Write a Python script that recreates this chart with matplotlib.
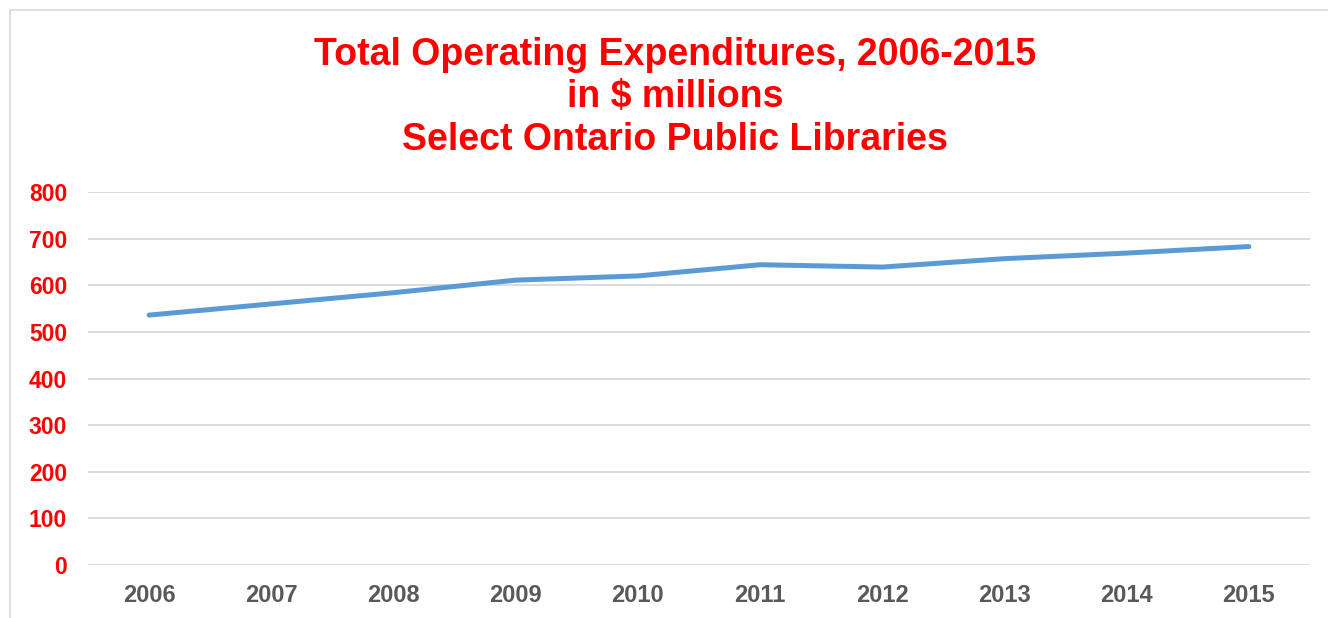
import matplotlib.pyplot as plt
from matplotlib.patches import Rectangle

# data ($ millions)
years = ['2006', '2007', '2008', '2009', '2010', '2011', '2012', '2013', '2014', '2015']
expenditures = [536, 560, 584, 611, 620, 644, 639, 657, 669, 683]
y_ticks = [0, 100, 200, 300, 400, 500, 600, 700, 800]
title_lines = ['Total Operating Expenditures, 2006-2015',
               'in $ millions',
               'Select Ontario Public Libraries']

plt.rcParams['font.family'] = ['Liberation Sans', 'DejaVu Sans']

W, H = 1328, 618
fig = plt.figure(figsize=(W / 100, H / 100), dpi=100)
ax = fig.add_axes([88 / W, 1 - 565 / H, (1310 - 88) / W, (565 - 192) / H])

x = list(range(len(years)))
ax.plot(x, expenditures, color='#5B9BD5', linewidth=3.6, solid_capstyle='round',
        solid_joinstyle='round', zorder=3)

ax.set_xlim(-0.5, len(years) - 0.5)
ax.set_ylim(0, 800)
ax.set_yticks(y_ticks)
ax.set_xticks(x)
ax.set_xticklabels(years)

for s in ax.spines.values():
    s.set_visible(False)
ax.yaxis.grid(True, color='#d9d9d9', linewidth=1.3)
ax.set_axisbelow(True)
ax.tick_params(axis='both', length=0)
ax.tick_params(axis='y', pad=15, labelsize=16.5, labelcolor='#ff0000')
ax.tick_params(axis='x', pad=14, labelsize=17, labelcolor='#595959')
for lbl in ax.get_yticklabels() + ax.get_xticklabels():
    lbl.set_fontweight('bold')

# title, three centred lines
for line, ypx in zip(title_lines, [65, 107.5, 150]):
    fig.text(675 / W, 1 - ypx / H, line, ha='center', va='baseline',
             fontsize=27, fontweight='bold', color='#ff0000')

# light chart frame
fig.add_artist(Rectangle((10 / W, -0.05), 1.0, 1 - 10 / H + 0.05,
                         transform=fig.transFigure, fill=False,
                         edgecolor='#d9d9d9', linewidth=1.2))

fig.savefig('out.png', dpi=100, facecolor='white')
